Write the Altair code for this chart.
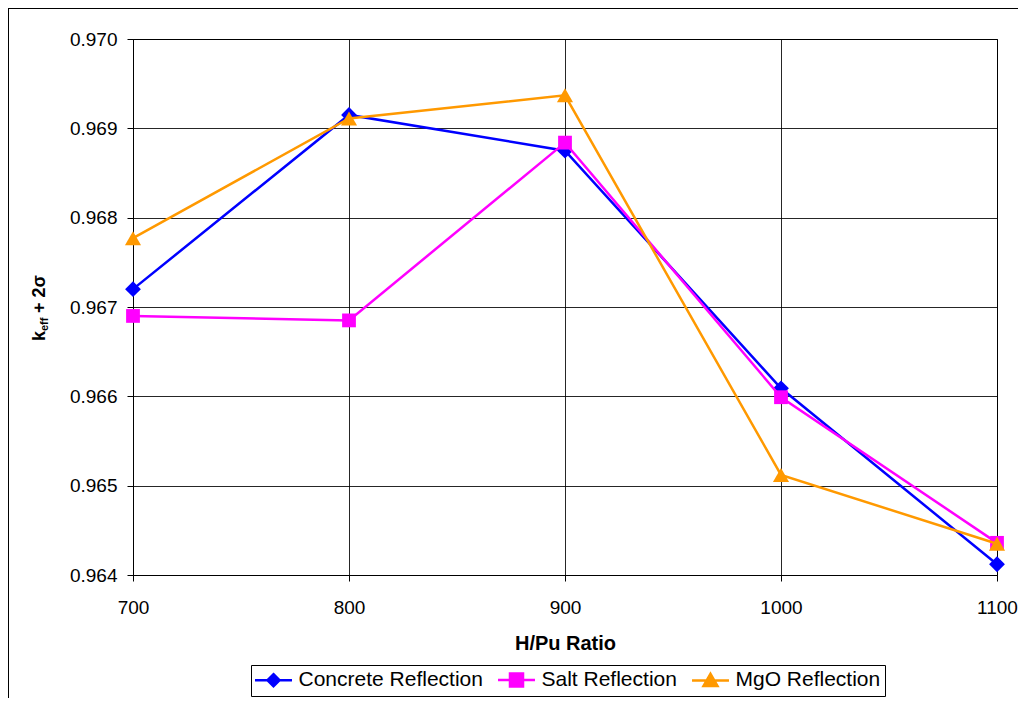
import altair as alt
import pandas as pd

# ---- data ----
h_pu = [700, 800, 900, 1000, 1100]
concrete = [0.96720, 0.96915, 0.96875, 0.96609, 0.96412]
salt = [0.96690, 0.96685, 0.96884, 0.96599, 0.96436]
mgo = [0.96777, 0.96911, 0.96937, 0.96512, 0.96435]
series_names = ["Concrete Reflection", "Salt Reflection", "MgO Reflection"]
series_colors = ["#0000FF", "#FF00FF", "#FF9900"]
series_shapes = ["diamond", "square", "triangle-up"]
series_sizes = [250, 190, 260]
# legend symbols: a line segment with the series marker in the middle
legend_paths = [
    "M-2.64,0H2.64M0,-0.86L0.86,0L0,0.86L-0.86,0Z",
    "M-2.64,0H2.64M-0.93,-0.93H0.93V0.93H-0.93Z",
    "M-2.64,0H2.64M0,-0.95L1,0.8L-1,0.8Z",
]
y_ticks = [0.964, 0.965, 0.966, 0.967, 0.968, 0.969, 0.970]

rows = []
for name, vals in zip(series_names, [concrete, salt, mgo]):
    for xv, v in zip(h_pu, vals):
        rows.append({"ratio": xv, "keff": v, "series": name})
df = pd.DataFrame(rows)

FONT = "Liberation Sans"
color_scale = alt.Scale(domain=series_names, range=series_colors)
x_scale = alt.Scale(domain=[700, 1100], nice=False, zero=False)
y_scale = alt.Scale(domain=[0.964, 0.970], nice=False, zero=False)

x_enc = alt.X(
    "ratio:Q", scale=x_scale,
    axis=alt.Axis(values=h_pu, format="d", title="H/Pu Ratio", labelFlush=False,
                  labelPadding=17, titlePadding=16, titleFontWeight="bold",
                  titleFontSize=20, titleFont=FONT),
)
y_enc = alt.Y(
    "keff:Q", scale=y_scale,
    axis=alt.Axis(values=y_ticks, format=".3f", title=None, labelPadding=10),
)

base = alt.Chart(df)
layers = []
for name, shape, size, col in zip(series_names, series_shapes, series_sizes, series_colors):
    sub = base.transform_filter(alt.datum.series == name)
    layers.append(sub.mark_line(strokeWidth=2.5, color=col).encode(x=x_enc, y=y_enc))
    layers.append(
        sub.mark_point(filled=True, shape=shape, size=size, opacity=1, color=col)
        .encode(x=x_enc, y=y_enc)
    )

leg = dict(orient="none", legendX=118, legendY=626, direction="horizontal",
           columns=3, title=None)
legend_layer = base.transform_filter("false").mark_point(
    filled=True, opacity=1, strokeWidth=2.5
).encode(
    x=x_enc, y=y_enc,
    color=alt.Color("series:N", scale=color_scale, legend=alt.Legend(**leg)),
    stroke=alt.Stroke("series:N", scale=color_scale, legend=alt.Legend(**leg)),
    shape=alt.Shape("series:N", scale=alt.Scale(domain=series_names, range=legend_paths),
                    legend=alt.Legend(**leg)),
)

one = pd.DataFrame({"a": [0]})
title_k = alt.Chart(one).mark_text(
    text="k", angle=270, align="left", baseline="alphabetic", font=FONT,
    fontSize=18, fontWeight="bold", color="black"
).encode(x=alt.value(-88), y=alt.value(302))
title_eff = alt.Chart(one).mark_text(
    text="eff", angle=270, align="left", baseline="alphabetic", font=FONT,
    fontSize=11, fontWeight="bold", color="black"
).encode(x=alt.value(-85), y=alt.value(292))
title_rest = alt.Chart(one).mark_text(
    text="+ 2σ", angle=270, align="left", baseline="alphabetic", font=FONT,
    fontSize=18, fontWeight="bold", color="black"
).encode(x=alt.value(-88), y=alt.value(274))

border_top = alt.Chart(one).mark_rule(color="black", strokeWidth=1).encode(
    x=alt.value(-125), x2=alt.value(900), y=alt.value(-30.5))
border_left = alt.Chart(one).mark_rule(color="black", strokeWidth=1).encode(
    x=alt.value(-124.5), y=alt.value(-31), y2=alt.value(700))

chart = alt.layer(
    *layers, legend_layer, title_k, title_eff, title_rest, border_top, border_left
).properties(
    width=864, height=536,
    autosize=alt.AutoSizeParams(type="none"),
    padding={"left": 125, "top": 31, "right": 21, "bottom": 123},
).configure_view(
    stroke="black", strokeWidth=1
).configure_axis(
    labelFont=FONT, labelFontSize=19, labelColor="black",
    titleColor="black", domainColor="black", tickColor="black",
    tickSize=6, gridColor="black", gridWidth=1, gridOpacity=0.85,
    domainWidth=1,
).configure_legend(
    strokeColor="black", strokeWidth=1, fillColor="white", padding=4,
    labelFont=FONT, labelFontSize=21, labelColor="black",
    symbolSize=196, symbolStrokeWidth=2.5, symbolOpacity=1,
    symbolOffset=8, labelOffset=14.5,
    columnPadding=10, cornerRadius=0, labelLimit=400,
)

chart.save("out.html", embed_options={"renderer": "svg", "actions": False})
